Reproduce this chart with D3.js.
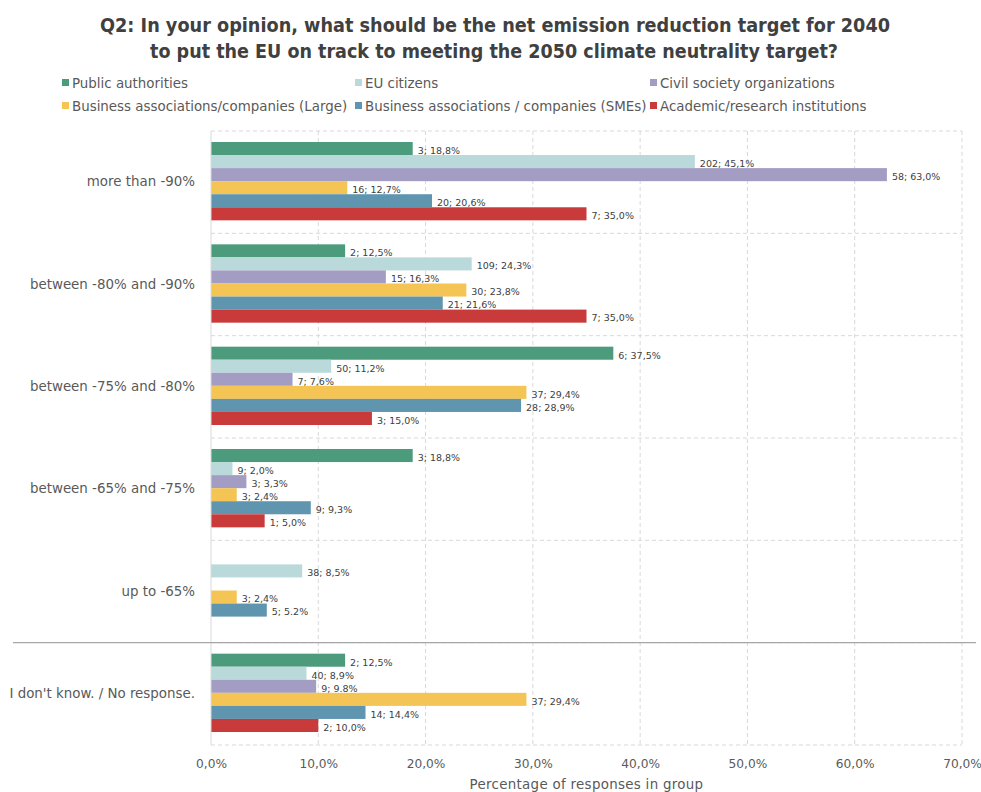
<!DOCTYPE html>
<html>
<head>
<meta charset="utf-8">
<script src="https://cdn.jsdelivr.net/npm/d3@7"></script>
<style>
  html, body { margin: 0; padding: 0; background: #ffffff; }
  svg { display: block; font-family: "DejaVu Sans", sans-serif; }
</style>
</head>
<body>
<svg id="chart" width="981" height="792"></svg>
<script>
// Answer categories (top to bottom)
const categories = [
  "more than -90%",
  "between -80% and -90%",
  "between -75% and -80%",
  "between -65% and -75%",
  "up to -65%",
  "I don't know. / No response."
];

// Respondent groups
const seriesNames = [
  "Public authorities",
  "EU citizens",
  "Civil society organizations",
  "Business associations/companies (Large)",
  "Business associations / companies (SMEs)",
  "Academic/research institutions"
];
const seriesColors = ["#4c9b7d", "#b9d9db", "#a49dc3", "#f4c455", "#5f95ae", "#c93a3a"];

// Share of responses in each group (%), null = no answer in that category
const publicAuthorities = [18.8, 12.5, 37.5, 18.8, null, 12.5];
const euCitizens        = [45.1, 24.3, 11.2, 2.0, 8.5, 8.9];
const civilSociety      = [63.0, 16.3, 7.6, 3.3, null, 9.8];
const businessLarge     = [12.7, 23.8, 29.4, 2.4, 2.4, 29.4];
const businessSMEs      = [20.6, 21.6, 28.9, 9.3, 5.2, 14.4];
const academic          = [35.0, 35.0, 15.0, 5.0, null, 10.0];

// Number of responses behind each share
const publicAuthoritiesN = [3, 2, 6, 3, null, 2];
const euCitizensN        = [202, 109, 50, 9, 38, 40];
const civilSocietyN      = [58, 15, 7, 3, null, 9];
const businessLargeN     = [16, 30, 37, 3, 3, 37];
const businessSMEsN      = [20, 21, 28, 9, 5, 14];
const academicN          = [7, 7, 3, 1, null, 2];

// Labels written with a decimal point instead of a comma: [series, category]
const dotLabels = [[2, 5], [4, 4]];

const xTicks = [0, 10, 20, 30, 40, 50, 60, 70];

const values = [publicAuthorities, euCitizens, civilSociety, businessLarge, businessSMEs, academic];
const counts = [publicAuthoritiesN, euCitizensN, civilSocietyN, businessLargeN, businessSMEsN, academicN];

const svg = d3.select("#chart");
const textColor = "#595959";
const fontSize = 13.4;

const margin = { left: 211, right: 19, top: 131, bottom: 47 };
const W = 981, H = 792;
const plotW = W - margin.left - margin.right;
const plotH = H - margin.top - margin.bottom;

const x = d3.scaleLinear().domain([0, 70]).range([margin.left, margin.left + plotW]);
const y0 = d3.scaleBand().domain(categories).range([margin.top, margin.top + plotH]).paddingInner(0).paddingOuter(0);
const y1 = d3.scaleBand().domain(d3.range(seriesNames.length)).range([11, y0.bandwidth() - 13]).padding(0);

// Title
const title = svg.append("g").attr("fill", "#404040").attr("font-weight", "bold").attr("font-size", 19)
  .attr("text-anchor", "middle").attr("font-family", "'DejaVu Sans', sans-serif");
title.append("text").attr("x", 495).attr("y", 32)
  .attr("textLength", 790).attr("lengthAdjust", "spacingAndGlyphs")
  .text("Q2: In your opinion, what should be the net emission reduction target for 2040");
title.append("text").attr("x", 494).attr("y", 58)
  .attr("textLength", 688).attr("lengthAdjust", "spacingAndGlyphs")
  .text("to put the EU on track to meeting the 2050 climate neutrality target?");

// Legend
const legendPos = [[62, 83], [355, 83], [650, 83], [62, 106], [355, 106], [650, 106]];
const legend = svg.append("g");
seriesNames.forEach((name, i) => {
  const g = legend.append("g").attr("transform", `translate(${legendPos[i][0]},${legendPos[i][1]})`);
  g.append("rect").attr("x", 0).attr("y", -4).attr("width", 7).attr("height", 7).attr("fill", seriesColors[i]);
  g.append("text").attr("x", 10).attr("y", 0).attr("dy", "0.35em").attr("font-size", fontSize).attr("fill", textColor).text(name);
});

// Grid
const grid = svg.append("g").attr("stroke", "#d9d9d9").attr("stroke-width", 1).attr("stroke-dasharray", "4,3").attr("fill", "none");
xTicks.slice(1).forEach(t => {
  grid.append("line").attr("x1", x(t)).attr("x2", x(t)).attr("y1", margin.top).attr("y2", margin.top + plotH);
});
categories.forEach((c, i) => {
  grid.append("line").attr("x1", margin.left).attr("x2", x(70)).attr("y1", y0(c)).attr("y2", y0(c));
});
grid.append("line").attr("x1", margin.left).attr("x2", x(70)).attr("y1", margin.top + plotH).attr("y2", margin.top + plotH);

// Bars and value labels
const isDot = (s, c) => dotLabels.some(d => d[0] === s && d[1] === c);
const bars = svg.append("g");
categories.forEach((cat, ci) => {
  const g = bars.append("g").attr("transform", `translate(0,${y0(cat)})`);
  seriesNames.forEach((name, si) => {
    const v = values[si][ci];
    if (v == null) return;
    g.append("rect")
      .attr("x", x(0)).attr("y", y1(si))
      .attr("width", x(v) - x(0)).attr("height", y1.bandwidth())
      .attr("fill", seriesColors[si]);
    const pct = v.toFixed(1).replace(".", isDot(si, ci) ? "." : ",");
    g.append("text")
      .attr("x", x(v) + 5).attr("y", y1(si) + y1.bandwidth() / 2 + 2)
      .attr("dy", "0.35em").attr("font-size", 9.5).attr("fill", "#404040")
      .text(`${counts[si][ci]}; ${pct}%`);
  });
});

// Vertical axis line
svg.append("line").attr("x1", margin.left).attr("x2", margin.left)
  .attr("y1", margin.top).attr("y2", margin.top + plotH).attr("stroke", "#d9d9d9");

// Separator before the "no response" group
svg.append("line").attr("x1", 13).attr("x2", 976)
  .attr("y1", y0(categories[5])).attr("y2", y0(categories[5]))
  .attr("stroke", "#a6a6a6").attr("stroke-width", 1.2);

// Category labels
const yAxis = d3.axisLeft(y0).tickSize(0).tickPadding(16);
svg.append("g").attr("transform", `translate(${margin.left},0)`).call(yAxis)
  .call(g => g.select(".domain").remove())
  .call(g => g.selectAll("text").attr("font-size", fontSize).attr("fill", textColor).attr("font-family", "'DejaVu Sans', sans-serif"));

// X axis
const xAxis = d3.axisBottom(x).tickValues(xTicks).tickSize(0).tickPadding(14)
  .tickFormat(d => d3.format(".1f")(d).replace(".", ",") + "%");
svg.append("g").attr("transform", `translate(0,${margin.top + plotH})`).call(xAxis)
  .call(g => g.select(".domain").remove())
  .call(g => g.selectAll("text").attr("font-size", 12.2).attr("fill", textColor).attr("font-family", "'DejaVu Sans', sans-serif"));

svg.append("text").attr("x", x(35)).attr("y", 789).attr("text-anchor", "middle")
  .attr("font-size", fontSize).attr("letter-spacing", 0.3).attr("fill", textColor).text("Percentage of responses in group");
</script>
</body>
</html>
